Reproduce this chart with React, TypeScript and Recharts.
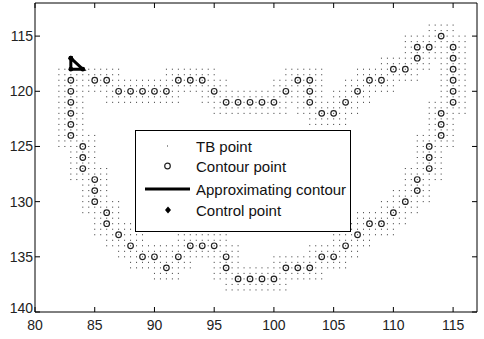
import React from 'react'
import { ScatterChart, Scatter, XAxis, YAxis, ReferenceArea } from 'recharts'

// contour traced clockwise from the top-left corner
const contourX = [
  83, 85, 86, 87, 88, 89, 90, 91, 92, 93, 94, 95, 96, 97, 98, 99, 100, 101, 102, 103, 103, 103,
  104, 105, 106, 107, 108, 109, 110, 111, 112, 112, 113, 114, 115, 115, 115, 115, 115, 115,
  114, 114, 114, 113, 113, 113, 112, 112, 111, 110, 109, 108, 107, 106, 105, 104, 103, 102,
  101, 100, 99, 98, 97, 96, 96, 95, 94, 93, 92, 91, 90, 89, 88, 87, 86, 86, 85, 85, 85,
  84, 84, 84, 83, 83, 83, 83, 83,
]
const contourY = [
  119, 119, 119, 120, 120, 120, 120, 120, 119, 119, 119, 120, 121, 121, 121, 121, 121, 120, 119, 119, 120, 121,
  122, 122, 121, 120, 119, 119, 118, 118, 117, 116, 116, 115, 116, 117, 118, 119, 120, 121,
  122, 123, 124, 125, 126, 127, 128, 129, 130, 131, 132, 132, 133, 134, 135, 135, 136, 136,
  136, 137, 137, 137, 137, 136, 135, 134, 134, 134, 135, 136, 135, 135, 134, 133, 132, 131, 130, 129, 128,
  127, 126, 125, 124, 123, 122, 121, 120,
]
// TB points sit on a half-unit grid around every contour point
const tbOffsets = [-1, -0.5, 0, 0.5, 1]

const approxX = [83, 84, 83, 83]
const approxY = [117, 118, 118, 117]

const xTicks = [80, 85, 90, 95, 100, 105, 110, 115]
const yTicks = [115, 120, 125, 130, 135, 140]
const xDomain = [80, 117]
const yDomain = [112, 140]
const legendLabels = ['TB point', 'Contour point', 'Approximating contour', 'Control point']

const contourData = contourX.map((x, i) => ({ x, y: contourY[i] }))
const approxData = approxX.map((x, i) => ({ x, y: approxY[i] }))

const tbSeen = new Set<string>()
const tbData: { x: number; y: number }[] = []
contourData.forEach((p) => {
  tbOffsets.forEach((dx) => {
    tbOffsets.forEach((dy) => {
      const key = `${p.x + dx}_${p.y + dy}`
      if (!tbSeen.has(key)) {
        tbSeen.add(key)
        tbData.push({ x: p.x + dx, y: p.y + dy })
      }
    })
  })
})

const FONT = "'Liberation Sans', Arial, sans-serif"
const W = 484
const H = 339
const MARGIN = { top: 3, right: 7, left: 0, bottom: 0 }
const Y_AXIS_W = 35
const X_AXIS_H = 27
const PLOT_TOP = MARGIN.top
const PLOT_BOTTOM = H - X_AXIS_H
const PLOT_LEFT = Y_AXIS_W
const PLOT_RIGHT = W - MARGIN.right
const TICK_LEN = 5

const tbShape = (props: any) => (
  <rect x={props.cx - 0.5} y={props.cy - 0.5} width={1} height={1} fill="#333" />
)
const contourShape = (props: any) => (
  <circle cx={props.cx} cy={props.cy} r={2.8} fill="none" stroke="#222" strokeWidth={1.2} />
)
const controlShape = (props: any) => (
  <circle cx={props.cx} cy={props.cy} r={2.4} fill="#000" />
)

// MATLAB style: ticks point inward, on both the bottom and top edge
const XTick = (props: any) => {
  const { x, payload } = props
  return (
    <g>
      <line x1={x} x2={x} y1={PLOT_BOTTOM} y2={PLOT_BOTTOM - TICK_LEN} stroke="#000" />
      <line x1={x} x2={x} y1={PLOT_TOP} y2={PLOT_TOP + TICK_LEN} stroke="#000" />
      <text x={x} y={PLOT_BOTTOM + 18} textAnchor="middle" fill="#222" fontSize={14} fontFamily={FONT}>
        {payload.value}
      </text>
    </g>
  )
}

const YTick = (props: any) => {
  const { y, payload } = props
  // the corner label is pushed up a bit so it clears the x labels
  const shift = payload.value === 140 ? -4 : 0
  return (
    <g>
      <line x1={PLOT_LEFT} x2={PLOT_LEFT + TICK_LEN} y1={y} y2={y} stroke="#000" />
      <line x1={PLOT_RIGHT} x2={PLOT_RIGHT - TICK_LEN} y1={y} y2={y} stroke="#000" />
      <text x={PLOT_LEFT - 2} y={y + 5 + shift} textAnchor="end" fill="#222" fontSize={14} fontFamily={FONT}>
        {payload.value}
      </text>
    </g>
  )
}

const LegendBox = () => {
  const rowTop = [135, 155, 178, 199]
  return (
    <div style={{ position: 'absolute', left: 135, top: 130, width: 214, height: 100, border: '1px solid #000', background: '#fff', fontFamily: FONT, fontSize: 15, color: '#111' }}>
      {legendLabels.map((label, i) => (
        <div key={label} style={{ position: 'absolute', left: 0, top: rowTop[i] - 130, height: 20, width: 214, display: 'flex', alignItems: 'center' }}>
          <svg width={60} height={20} style={{ flex: 'none' }}>
            {i === 0 && <rect x={31} y={9.5} width={1} height={1} fill="#333" />}
            {i === 1 && <circle cx={31.5} cy={10} r={2.8} fill="none" stroke="#222" strokeWidth={1.2} />}
            {i === 2 && <line x1={9} y1={10} x2={54} y2={10} stroke="#000" strokeWidth={3} />}
            {i === 3 && <polygon points="32,6.5 35,10 32,13.5 29,10" fill="#000" />}
          </svg>
          <span style={{ whiteSpace: 'nowrap' }}>{label}</span>
        </div>
      ))}
    </div>
  )
}

const App: React.FC = () => {
  return (
    <div style={{ position: 'absolute', left: 0, top: 0, width: W, height: H, background: '#fff' }}>
      <ScatterChart width={W} height={H} margin={MARGIN}>
        <XAxis type="number" dataKey="x" domain={xDomain} ticks={xTicks} interval={0} allowDataOverflow
          height={X_AXIS_H} axisLine={false} tickLine={false} tick={<XTick />} />
        <YAxis type="number" dataKey="y" domain={yDomain} reversed ticks={yTicks} interval={0} allowDataOverflow
          width={Y_AXIS_W} axisLine={false} tickLine={false} tick={<YTick />} />
        <ReferenceArea x1={xDomain[0]} x2={xDomain[1]} y1={yDomain[0]} y2={yDomain[1]}
          fill="none" stroke="#000" strokeWidth={1} fillOpacity={0} strokeOpacity={1} />
        <Scatter name="TB point" data={tbData} shape={tbShape} isAnimationActive={false} />
        <Scatter name="Contour point" data={contourData} shape={contourShape} isAnimationActive={false} />
        <Scatter name="Approximating contour" data={approxData} line={{ stroke: '#000', strokeWidth: 3 }}
          shape={controlShape} isAnimationActive={false} />
      </ScatterChart>
      <LegendBox />
    </div>
  )
}

export default App
